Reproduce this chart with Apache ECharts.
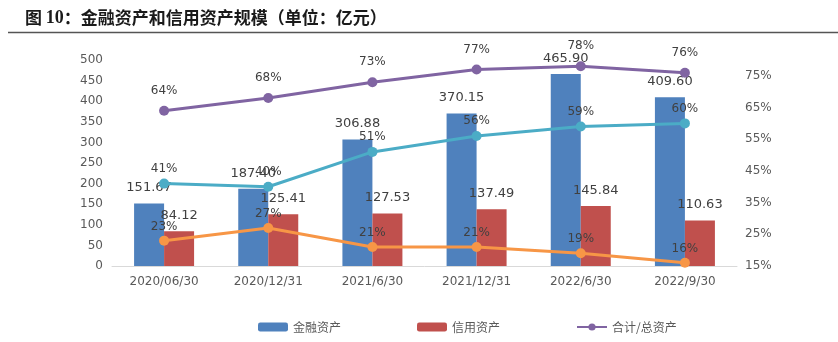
<!DOCTYPE html>
<html>
<head>
<meta charset="utf-8">
<script src="https://cdn.jsdelivr.net/npm/echarts@6/dist/echarts.min.js"></script>
<style>
html,body{margin:0;padding:0;background:#fff;}
#c{width:838px;height:342px;}
</style>
</head>
<body>
<div id="c"></div>
<script>
const categories = ['2020/06/30', '2020/12/31', '2021/6/30', '2021/12/31', '2022/6/30', '2022/9/30'];
const financialAssets = [151.67, 187.40, 306.88, 370.15, 465.90, 409.60];
const creditAssets = [84.12, 125.41, 127.53, 137.49, 145.84, 110.63];
const totalRatio = [0.64, 0.68, 0.73, 0.77, 0.78, 0.76];
const financialRatio = [0.41, 0.40, 0.51, 0.56, 0.59, 0.60];
const creditRatio = [0.23, 0.27, 0.21, 0.21, 0.19, 0.16];
const leftTicks = [0, 50, 100, 150, 200, 250, 300, 350, 400, 450, 500];
const rightTicks = [0.15, 0.25, 0.35, 0.45, 0.55, 0.65, 0.75];

const chart = echarts.init(document.getElementById('c'), null, {renderer: 'canvas'});
const labelColor = '#404040';
const axisColor = '#595959';
const pct = v => Math.round(v * 100) + '%';

function lineSeries(name, data, color, dist) {
  return {
    name: name, type: 'line', yAxisIndex: 1, data: data,
    symbol: 'circle', symbolSize: 10,
    lineStyle: {color: color, width: 3},
    itemStyle: {color: color},
    label: {show: true, position: 'top', distance: dist, color: labelColor,
            fontSize: 12, fontFamily: 'DejaVu Sans', formatter: p => pct(p.value)},
    z: 5
  };
}

chart.setOption({
  animation: false,
  title: {
    text: '{s|图 }{n|10}{s|：金融资产和信用资产规模（单位：亿元）}',
    left: 20, top: 4,
    textStyle: {
      rich: {
        s: {fontSize: 17, fontWeight: 'bold', color: '#1a1a1a', fontFamily: 'Noto Sans CJK SC'},
        n: {fontSize: 18, fontWeight: 'bold', color: '#1a1a1a', fontFamily: 'Liberation Serif'}
      }
    }
  },
  graphic: [{
    type: 'line', shape: {x1: 8, y1: 32.5, x2: 838, y2: 32.5},
    style: {stroke: '#555555', lineWidth: 1.5}
  }],
  grid: {left: 112, right: 101, top: 60, bottom: 76},
  legend: {
    data: ['金融资产', '信用资产', '合计/总资产'],
    left: 253, top: 316,
    itemWidth: 30, itemHeight: 9, itemGap: 76,
    textStyle: {color: axisColor, fontSize: 12, fontFamily: 'Noto Sans CJK SC'}
  },
  xAxis: {
    type: 'category', data: categories,
    axisLine: {lineStyle: {color: '#d9d9d9', width: 1}},
    axisTick: {show: false},
    axisLabel: {color: axisColor, fontSize: 12, margin: 10, fontFamily: 'DejaVu Sans'}
  },
  yAxis: [{
    type: 'value', min: 0, max: 500, interval: 50,
    axisLine: {show: false}, axisTick: {show: false}, splitLine: {show: false},
    axisLabel: {color: axisColor, fontSize: 12, margin: 9, fontFamily: 'DejaVu Sans'}
  }, {
    type: 'value', min: 0.15, max: 0.80,
    axisLine: {show: false}, axisTick: {show: false}, splitLine: {show: false},
    axisLabel: {color: axisColor, fontSize: 12, margin: 8, fontFamily: 'DejaVu Sans',
                customValues: rightTicks, formatter: v => pct(v)}
  }],
  series: [{
    name: '金融资产', type: 'bar', data: financialAssets,
    barWidth: 30, barGap: '0%',
    itemStyle: {color: '#4F81BD'},
    label: {show: true, position: 'top', distance: 9, color: labelColor, fontSize: 13,
            fontFamily: 'DejaVu Sans', formatter: p => p.value.toFixed(2)}
  }, {
    name: '信用资产', type: 'bar', data: creditAssets,
    barWidth: 30, barGap: '0%',
    itemStyle: {color: '#C0504D'},
    label: {show: true, position: 'top', distance: 9, color: labelColor, fontSize: 13,
            fontFamily: 'DejaVu Sans', formatter: p => p.value.toFixed(2)}
  },
    lineSeries('合计/总资产', totalRatio, '#8064A2', 9),
    lineSeries('金融资产/总资产', financialRatio, '#4BACC6', 4),
    lineSeries('信用资产/总资产', creditRatio, '#F79646', 3)
  ]
});
</script>
</body>
</html>
